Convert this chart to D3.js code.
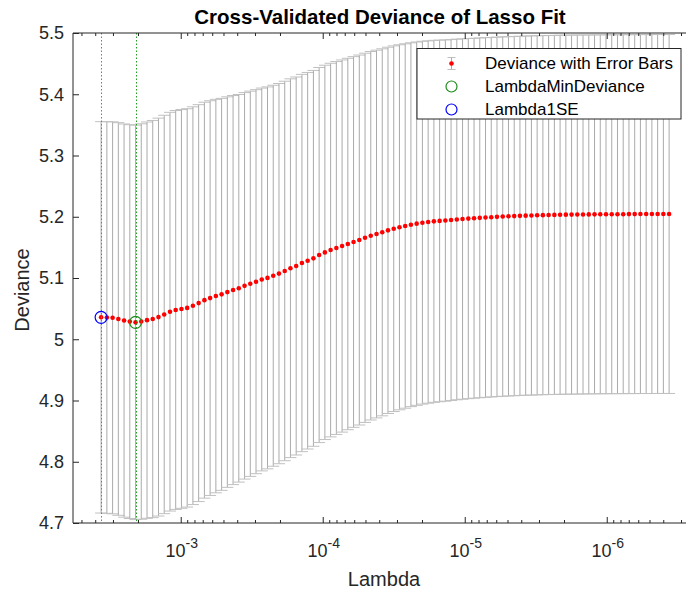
<!DOCTYPE html>
<html>
<head>
<meta charset="utf-8">
<script src="https://cdn.jsdelivr.net/npm/d3@7"></script>
<style>
  body { margin: 0; background: #fff; overflow: hidden; }
  svg { display: block; font-family: "Liberation Sans", Arial, sans-serif; }
</style>
</head>
<body>
<div id="chart"></div>
<script>
// lambda grid (decreasing)
const lambda = [
  3.635e-3, 3.312e-3, 3.018e-3, 2.750e-3, 2.506e-3, 2.283e-3, 2.080e-3, 1.896e-3, 1.727e-3, 1.574e-3,
  1.434e-3, 1.307e-3, 1.190e-3, 1.085e-3, 9.883e-4, 9.005e-4, 8.205e-4, 7.477e-4, 6.812e-4, 6.208e-4,
  5.656e-4, 5.154e-4, 4.696e-4, 4.279e-4, 3.899e-4, 3.552e-4, 3.237e-4, 2.949e-4, 2.687e-4, 2.449e-4,
  2.231e-4, 2.033e-4, 1.852e-4, 1.688e-4, 1.538e-4, 1.401e-4, 1.277e-4, 1.163e-4, 1.060e-4, 9.658e-5,
  8.800e-5, 8.018e-5, 7.306e-5, 6.657e-5, 6.066e-5, 5.527e-5, 5.036e-5, 4.589e-5, 4.181e-5, 3.810e-5,
  3.471e-5, 3.163e-5, 2.882e-5, 2.626e-5, 2.393e-5, 2.180e-5, 1.987e-5, 1.810e-5, 1.649e-5, 1.503e-5,
  1.369e-5, 1.248e-5, 1.137e-5, 1.036e-5, 9.438e-6, 8.600e-6, 7.836e-6, 7.140e-6, 6.505e-6, 5.928e-6,
  5.401e-6, 4.921e-6, 4.484e-6, 4.086e-6, 3.723e-6, 3.392e-6, 3.091e-6, 2.816e-6, 2.566e-6, 2.338e-6,
  2.131e-6, 1.941e-6, 1.769e-6, 1.612e-6, 1.469e-6, 1.338e-6, 1.219e-6, 1.111e-6, 1.012e-6, 9.223e-7,
  8.404e-7, 7.657e-7, 6.977e-7, 6.357e-7, 5.793e-7, 5.278e-7, 4.809e-7, 4.382e-7, 3.993e-7, 3.638e-7
];

const deviance = [
  5.0358, 5.0355, 5.0350, 5.0331, 5.0305, 5.0288, 5.0276, 5.0290, 5.0312, 5.0330,
  5.0362, 5.0405, 5.0450, 5.0478, 5.0495, 5.0512, 5.0548, 5.0590, 5.0638, 5.0672,
  5.0705, 5.0733, 5.0770, 5.0803, 5.0832, 5.0872, 5.0906, 5.0940, 5.0976, 5.1002,
  5.1037, 5.1072, 5.1115, 5.1160, 5.1196, 5.1245, 5.1282, 5.1321, 5.1375, 5.1418,
  5.1456, 5.1490, 5.1522, 5.1555, 5.1588, 5.1620, 5.1656, 5.1690, 5.1718, 5.1746,
  5.1778, 5.1805, 5.1828, 5.1849, 5.1870, 5.1887, 5.1903, 5.1914, 5.1925, 5.1932,
  5.1938, 5.1947, 5.1956, 5.1963, 5.1970, 5.1976, 5.1982, 5.1988, 5.1993, 5.1998,
  5.2003, 5.2007, 5.2011, 5.2015, 5.2018, 5.2021, 5.2024, 5.2026, 5.2028, 5.2030,
  5.2032, 5.2034, 5.2035, 5.2036, 5.2037, 5.2038, 5.2039, 5.2040, 5.2041, 5.2041,
  5.2042, 5.2042, 5.2043, 5.2043, 5.2044, 5.2044, 5.2044, 5.2045, 5.2045, 5.2045
];

const devSE = [
  0.3195, 0.3197, 0.3200, 0.3205, 0.3210, 0.3215, 0.3220, 0.3228, 0.3235, 0.3242,
  0.3248, 0.3252, 0.3255, 0.3256, 0.3255, 0.3252, 0.3247, 0.3240, 0.3232, 0.3222,
  0.3212, 0.3200, 0.3188, 0.3176, 0.3164, 0.3155, 0.3145, 0.3135, 0.3125, 0.3118,
  0.3110, 0.3104, 0.3098, 0.3092, 0.3086, 0.3080, 0.3074, 0.3068, 0.3062, 0.3056,
  0.3050, 0.3044, 0.3038, 0.3032, 0.3026, 0.3020, 0.3014, 0.3008, 0.3002, 0.2996,
  0.2990, 0.2985, 0.2980, 0.2975, 0.2970, 0.2966, 0.2962, 0.2958, 0.2955, 0.2952,
  0.2949, 0.2946, 0.2944, 0.2942, 0.2940, 0.2938, 0.2937, 0.2936, 0.2935, 0.2934,
  0.2934, 0.2933, 0.2933, 0.2932, 0.2932, 0.2932, 0.2932, 0.2931, 0.2931, 0.2931,
  0.2931, 0.2931, 0.2931, 0.2931, 0.2930, 0.2930, 0.2930, 0.2930, 0.2930, 0.2930,
  0.2930, 0.2930, 0.2930, 0.2930, 0.2930, 0.2930, 0.2930, 0.2930, 0.2930, 0.2930
];

const indexMinDeviance = 6;
const index1SE = 0;

const yTicks = [4.7, 4.8, 4.9, 5.0, 5.1, 5.2, 5.3, 5.4, 5.5];
const xMajorTicks = [1e-3, 1e-4, 1e-5, 1e-6];
const xTickExponents = ["-3", "-4", "-5", "-6"];
const legendLabels = ["Deviance with Error Bars", "LambdaMinDeviance", "Lambda1SE"];

const W = 686, H = 593;
// the right side of the axes box lies just outside the picture
const plot = { left: 73, top: 33, right: 694, bottom: 523 };
const axisColor = "#262626";

const svg = d3.select("#chart").append("svg")
    .attr("width", W)
    .attr("height", H);

const x = d3.scaleLog().domain([5.735e-3, 2.43e-7]).range([plot.left, plot.right]);
const y = d3.scaleLinear().domain([4.7, 5.5]).range([plot.bottom, plot.top]);

// minor ticks: 2..9 x each decade inside the range
const xMinorTicks = [];
for (let e = -7; e <= -3; e++) {
    for (let m = 2; m <= 9; m++) {
        const v = m * Math.pow(10, e);
        if (v < x.domain()[0] && v > x.domain()[1]) xMinorTicks.push(v);
    }
}

const g = svg.append("g");

// error bars
const bars = g.append("g")
    .attr("stroke", "#aaaaaa")
    .attr("stroke-width", 1)
    .attr("fill", "none");

lambda.forEach((lam, i) => {
    const cx = x(lam);
    const lo = y(deviance[i] - devSE[i]);
    const hi = y(deviance[i] + devSE[i]);
    bars.append("line").attr("x1", cx).attr("x2", cx).attr("y1", lo).attr("y2", hi);
    bars.append("line").attr("x1", cx - 6).attr("x2", cx + 6).attr("y1", lo).attr("y2", lo)
        .attr("stroke", "#c0c0c0");
    bars.append("line").attr("x1", cx - 6).attr("x2", cx + 6).attr("y1", hi).attr("y2", hi)
        .attr("stroke", "#c0c0c0");
});

// red dots
g.append("g").selectAll("circle")
    .data(lambda)
    .join("circle")
    .attr("cx", d => x(d))
    .attr("cy", (d, i) => y(deviance[i]))
    .attr("r", 2.3)
    .attr("fill", "#ff0000");

// dotted vertical lines (snapped to the pixel grid so they stay crisp)
const snap = v => Math.round(v) + 0.5;
g.append("line")
    .attr("x1", snap(x(lambda[indexMinDeviance]))).attr("x2", snap(x(lambda[indexMinDeviance])))
    .attr("y1", plot.top).attr("y2", plot.bottom)
    .attr("stroke", "#22a022")
    .attr("stroke-width", 1)
    .attr("stroke-dasharray", "1.5,2");

g.append("line")
    .attr("x1", snap(x(lambda[index1SE]))).attr("x2", snap(x(lambda[index1SE])))
    .attr("y1", plot.top).attr("y2", plot.bottom)
    .attr("stroke", "#6a6aff")
    .attr("stroke-width", 1)
    .attr("stroke-dasharray", "1.5,2");

// marker circles
g.append("circle")
    .attr("cx", x(lambda[indexMinDeviance]))
    .attr("cy", y(deviance[indexMinDeviance]))
    .attr("r", 6)
    .attr("fill", "none")
    .attr("stroke", "#1e8c1e")
    .attr("stroke-width", 1.2);

g.append("circle")
    .attr("cx", x(lambda[index1SE]))
    .attr("cy", y(deviance[index1SE]))
    .attr("r", 6)
    .attr("fill", "none")
    .attr("stroke", "#0000ff")
    .attr("stroke-width", 1.2);

// axes
function styleAxis(sel) {
    sel.select(".domain").remove();
    sel.selectAll("line").attr("stroke", axisColor);
    sel.selectAll("text").attr("fill", axisColor);
}

svg.append("g")
    .attr("transform", `translate(0,${plot.bottom})`)
    .call(d3.axisBottom(x).tickValues(xMajorTicks).tickSize(-6).tickSizeOuter(0).tickFormat(""))
    .call(styleAxis);
svg.append("g")
    .attr("transform", `translate(0,${plot.bottom})`)
    .call(d3.axisBottom(x).tickValues(xMinorTicks).tickSize(-3).tickSizeOuter(0).tickFormat(""))
    .call(styleAxis);
svg.append("g")
    .attr("transform", `translate(0,${plot.top})`)
    .call(d3.axisTop(x).tickValues(xMajorTicks).tickSize(-6).tickSizeOuter(0).tickFormat(""))
    .call(styleAxis);
svg.append("g")
    .attr("transform", `translate(0,${plot.top})`)
    .call(d3.axisTop(x).tickValues(xMinorTicks).tickSize(-3).tickSizeOuter(0).tickFormat(""))
    .call(styleAxis);

const yAxis = svg.append("g")
    .attr("transform", `translate(${plot.left},0)`)
    .call(d3.axisLeft(y).tickValues(yTicks).tickSize(-6).tickSizeOuter(0).tickPadding(9)
        .tickFormat(d => String(+d.toFixed(1))))
    .call(styleAxis);
yAxis.selectAll("text")
    .attr("font-size", 18)
    .attr("font-family", "Liberation Sans, Arial, sans-serif");

// axes frame: left, top and bottom (the right side is off the picture)
const frame = svg.append("g").attr("stroke", axisColor).attr("stroke-width", 1);
frame.append("line").attr("x1", plot.left).attr("x2", plot.left).attr("y1", plot.top).attr("y2", plot.bottom);
frame.append("line").attr("x1", plot.left).attr("x2", plot.right).attr("y1", plot.top).attr("y2", plot.top);
frame.append("line").attr("x1", plot.left).attr("x2", plot.right).attr("y1", plot.bottom).attr("y2", plot.bottom);

// x tick labels 10^n
xMajorTicks.forEach((v, i) => {
    const t = svg.append("text")
        .attr("x", x(v) + 1)
        .attr("y", 557)
        .attr("text-anchor", "middle")
        .attr("fill", axisColor)
        .attr("font-size", 18);
    t.append("tspan").text("10");
    t.append("tspan").attr("dy", -9).attr("font-size", 14).text(xTickExponents[i]);
});

// axis labels
svg.append("text")
    .attr("x", 384)
    .attr("y", 586)
    .attr("text-anchor", "middle")
    .attr("fill", axisColor)
    .attr("font-size", 20)
    .text("Lambda");

svg.append("text")
    .attr("transform", "translate(29,290) rotate(-90)")
    .attr("text-anchor", "middle")
    .attr("fill", axisColor)
    .attr("font-size", 20)
    .text("Deviance");

// title
svg.append("text")
    .attr("x", 380)
    .attr("y", 24)
    .attr("text-anchor", "middle")
    .attr("fill", "#000")
    .attr("font-size", 20.5)
    .attr("font-weight", "bold")
    .text("Cross-Validated Deviance of Lasso Fit");

// legend
const legend = svg.append("g");
legend.append("rect")
    .attr("x", 417).attr("y", 48.5)
    .attr("width", 264).attr("height", 70.5)
    .attr("fill", "#fff")
    .attr("stroke", axisColor)
    .attr("stroke-width", 1);

const rowY = [63.5, 86.5, 109.5];
const iconX = 451.5;

legend.append("line").attr("x1", iconX).attr("x2", iconX).attr("y1", rowY[0] - 6).attr("y2", rowY[0] + 6)
    .attr("stroke", "#aaaaaa");
legend.append("line").attr("x1", iconX - 4).attr("x2", iconX + 4).attr("y1", rowY[0] - 6).attr("y2", rowY[0] - 6)
    .attr("stroke", "#c0c0c0");
legend.append("line").attr("x1", iconX - 4).attr("x2", iconX + 4).attr("y1", rowY[0] + 6).attr("y2", rowY[0] + 6)
    .attr("stroke", "#c0c0c0");
legend.append("circle").attr("cx", iconX).attr("cy", rowY[0]).attr("r", 2.3).attr("fill", "#ff0000");
legend.append("circle").attr("cx", iconX).attr("cy", rowY[1]).attr("r", 5.5)
    .attr("fill", "none").attr("stroke", "#1e8c1e").attr("stroke-width", 1.2);
legend.append("circle").attr("cx", iconX).attr("cy", rowY[2]).attr("r", 5.5)
    .attr("fill", "none").attr("stroke", "#0000ff").attr("stroke-width", 1.2);

legendLabels.forEach((label, i) => {
    legend.append("text")
        .attr("x", 485)
        .attr("y", rowY[i])
        .attr("dy", "0.35em")
        .attr("fill", "#000")
        .attr("font-size", 17)
        .text(label);
});
</script>
</body>
</html>
